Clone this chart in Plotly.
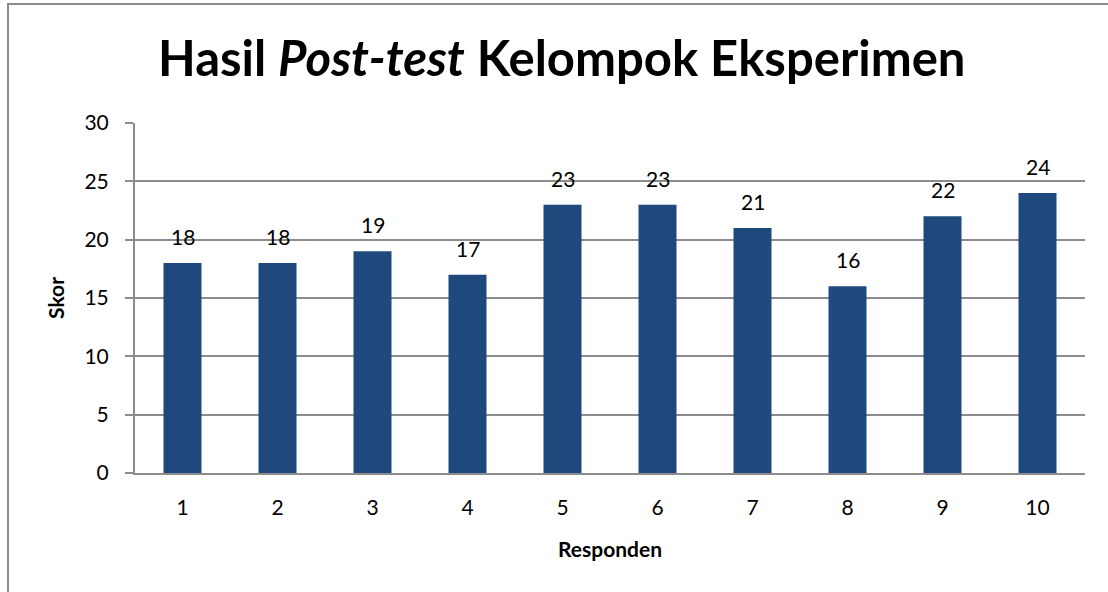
import plotly.graph_objects as go

categories = [1, 2, 3, 4, 5, 6, 7, 8, 9, 10]
category_labels = ["1", "2", "3", "4", "5", "6", "7", "8", "9", "10"]
scores = [18, 18, 19, 17, 23, 23, 21, 16, 22, 24]
y_ticks = [0, 5, 10, 15, 20, 25, 30]

bar_color = "#1F497D"
grid_color = "#8C8C8C"
font_family = "Lato, 'Open Sans', sans-serif"

fig = go.Figure()
fig.add_trace(go.Bar(
    x=categories, y=scores, marker_color=bar_color, width=0.4,
    marker_line_width=0, hoverinfo="x+y"
))

for c, v in zip(categories, scores):
    fig.add_annotation(x=c, y=v, text=str(v), showarrow=False,
                       yanchor="bottom", yshift=12,
                       font=dict(size=21, color="black", family=font_family))

fig.update_layout(
    width=1108, height=592,
    margin=dict(l=135, r=23, t=123, b=119),
    paper_bgcolor="white", plot_bgcolor="white",
    showlegend=False,
    title=dict(text="<b>Hasil <i>Post-test</i> Kelompok Eksperimen</b>",
               x=0.507, xanchor="center", y=0.9, yanchor="middle",
               font=dict(size=49, color="black", family=font_family)),
    font=dict(family=font_family, color="black"),
)
fig.update_xaxes(
    range=[0.5, 10.5], tickvals=categories, ticktext=category_labels,
    showline=True, linecolor=grid_color, linewidth=2,
    ticks="", tickfont=dict(size=21), ticklabelstandoff=15,
    title=dict(text="<b>Responden</b>", font=dict(size=21), standoff=24),
    showgrid=False, zeroline=False,
)
fig.update_yaxes(
    range=[0, 30], tickvals=y_ticks, showline=True, linecolor=grid_color,
    linewidth=2, ticks="outside", ticklen=8, tickcolor=grid_color, tickwidth=2,
    tickfont=dict(size=21), ticklabelstandoff=12,
    showgrid=True, gridcolor=grid_color, gridwidth=1.5,
    zeroline=False,
    title=dict(text="<b>Skor</b>", font=dict(size=21), standoff=14),
)
fig.add_shape(type="rect", xref="paper", yref="paper",
              x0=(8 - 135) / 950, x1=1.2, y0=-0.6, y1=1 + (123 - 4) / 350,
              line=dict(color="#8C8C8C", width=2), fillcolor="rgba(0,0,0,0)")

fig.write_html("out.html", config={"displayModeBar": False},
               post_script="document.body.style.margin='0';")
